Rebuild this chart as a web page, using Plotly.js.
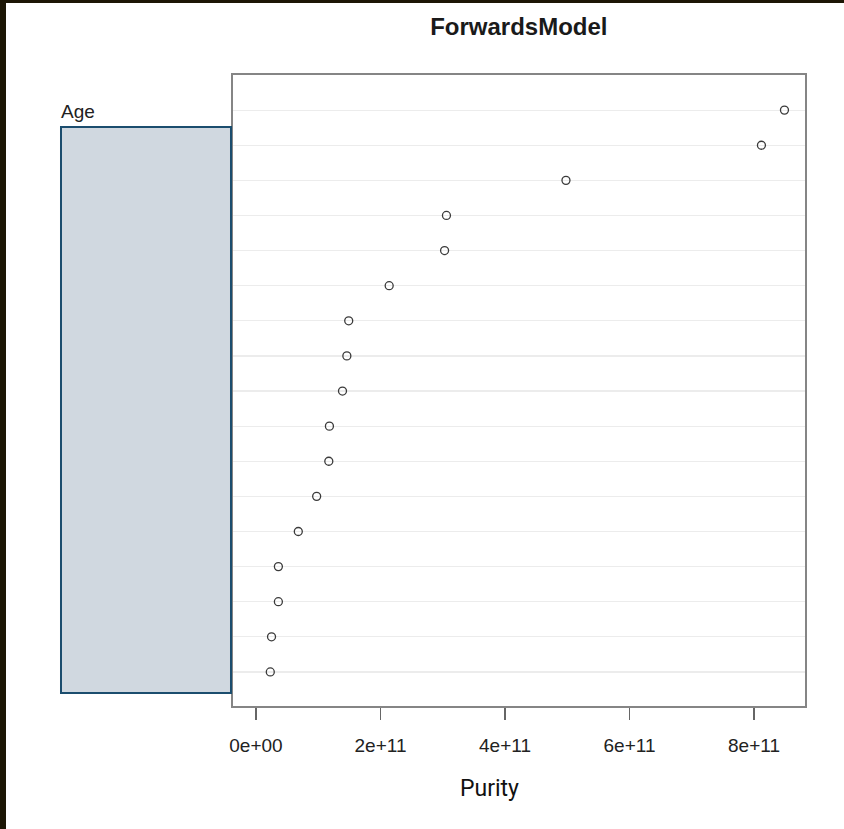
<!DOCTYPE html>
<html>
<head>
<meta charset="utf-8">
<script src="https://cdn.plot.ly/plotly-3.0.1.min.js"></script>
<style>
  html, body { margin: 0; padding: 0; background: #1c1605; width: 844px; height: 829px; overflow: hidden; }
  #chart { position: absolute; left: 6px; top: 3px; width: 838px; height: 826px; background: #fff; }
</style>
</head>
<body>
<div id="chart"></div>
<script>
// Row order from top (1) to bottom (17)
const rank = [1, 2, 3, 4, 5, 6, 7, 8, 9, 10, 11, 12, 13, 14, 15, 16, 17];
// Purity values
const purity = [8.49e11, 8.12e11, 4.98e11, 3.06e11, 3.03e11, 2.14e11, 1.49e11, 1.46e11,
                1.39e11, 1.18e11, 1.17e11, 0.975e11, 0.68e11, 0.36e11, 0.36e11, 0.25e11, 0.23e11];
const xTickVals = [0, 2e11, 4e11, 6e11, 8e11];
const xTickText = ['0e+00', '2e+11', '4e+11', '6e+11', '8e+11'];
const chartTitle = 'ForwardsModel';
const xLabel = 'Purity';
const panelLabel = 'Age';

const trace = {
  type: 'scatter',
  mode: 'markers',
  x: purity,
  y: rank,
  marker: { symbol: 'circle-open', size: 8, color: '#3a3a3a', line: { width: 1.3, color: '#3a3a3a' } },
  hoverinfo: 'x'
};

const layout = {
  width: 838,
  height: 826,
  margin: { l: 227, r: 39, t: 72, b: 123 },
  paper_bgcolor: '#ffffff',
  plot_bgcolor: '#ffffff',
  showlegend: false,
  title: {
    text: '<b>' + chartTitle + '</b>',
    font: { family: 'Liberation Sans, Arial, sans-serif', size: 24, color: '#1a1a1a' },
    x: 0.612, xref: 'container', xanchor: 'center',
    y: 0.972, yref: 'container', yanchor: 'middle'
  },
  xaxis: {
    range: [-0.369e11, 8.82e11],
    tickvals: xTickVals,
    ticktext: xTickText,
    ticks: 'outside',
    ticklen: 12,
    tickwidth: 1.3,
    tickcolor: '#666',
    ticklabelstandoff: 10,
    tickfont: { family: 'Liberation Sans, Arial, sans-serif', size: 19, color: '#222' },
    showgrid: false,
    zeroline: false,
    showline: true,
    mirror: true,
    linecolor: '#858585',
    linewidth: 1.6
  },
  yaxis: {
    range: [17.97, 0.0],
    tickvals: rank,
    showticklabels: false,
    ticks: '',
    showgrid: true,
    gridcolor: '#ececec',
    gridwidth: 1.2,
    zeroline: false,
    showline: true,
    mirror: true,
    linecolor: '#858585',
    linewidth: 1.6
  },
  shapes: [{
    type: 'rect', xref: 'paper', yref: 'paper',
    x0: -0.3007, x1: -0.0035, y0: 0.0206, y1: 0.9176,
    fillcolor: '#d0d8e0',
    line: { color: '#1b4d6e', width: 2 },
    layer: 'above'
  }],
  annotations: [{
    text: panelLabel, xref: 'paper', yref: 'paper',
    x: -0.3045, y: 0.9414, xanchor: 'left', yanchor: 'middle', showarrow: false,
    font: { family: 'Liberation Sans, Arial, sans-serif', size: 19, color: '#222' }
  }, {
    text: xLabel, xref: 'paper', yref: 'paper',
    x: 0.4476, y: -0.1315, xanchor: 'center', yanchor: 'middle', showarrow: false,
    font: { family: 'Roboto, sans-serif', size: 23, color: '#111' }
  }]
};

Plotly.newPlot('chart', [trace], layout, { displayModeBar: false, staticPlot: true });
</script>
</body>
</html>
